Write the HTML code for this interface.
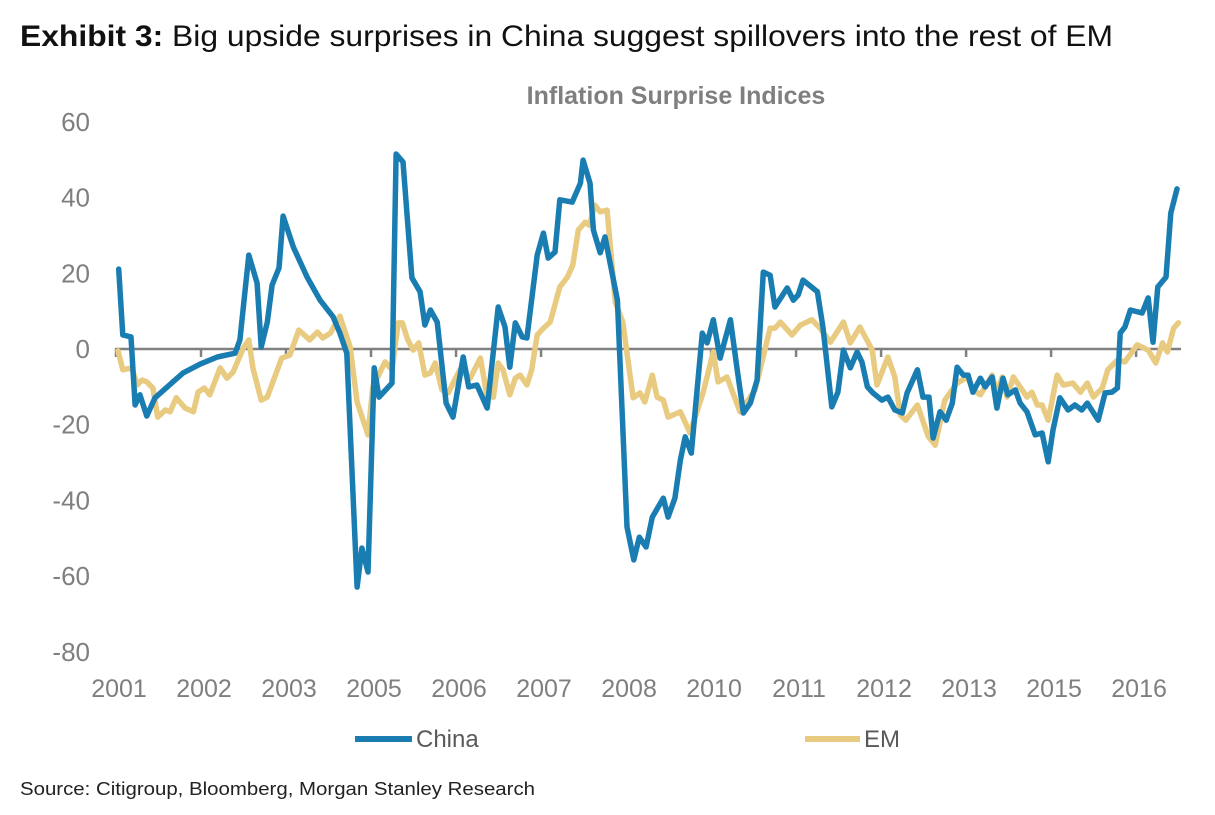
<!DOCTYPE html>
<html><head><meta charset="utf-8"><style>
body{margin:0;background:#fff;width:1215px;height:810px;overflow:hidden;font-family:"Liberation Sans",sans-serif}
</style></head><body>
<svg width="1215" height="810">
<text x="20" y="46" font-size="30" fill="#111" textLength="1093" lengthAdjust="spacingAndGlyphs"><tspan font-weight="bold">Exhibit 3:</tspan>  Big upside surprises in China suggest spillovers into the rest of EM</text>
<text x="676" y="104" text-anchor="middle" font-size="25" font-weight="bold" fill="#7f7f7f">Inflation Surprise Indices</text>
<g id="yaxis"></g>
<g id="xaxis"></g>
<g id="series"></g>
<g>
<line x1="355" y1="739" x2="412" y2="739" stroke="#1a7db2" stroke-width="6"/>
<text x="416" y="747" font-size="24" fill="#595959">China</text>
<line x1="805" y1="739" x2="860" y2="739" stroke="#e8cb80" stroke-width="6"/>
<text x="864" y="747" font-size="24" fill="#595959">EM</text>
</g>
<text x="20" y="795" font-size="18" fill="#222" textLength="515" lengthAdjust="spacingAndGlyphs">Source: Citigroup, Bloomberg, Morgan Stanley Research</text>
</svg>
<script>
const yTicks=[60,40,20,0,-20,-40,-60,-80];
const xTickLabels=["2001","2002","2003","2005","2006","2007","2008","2010","2011","2012","2013","2015","2016"];
const xTickStep=1.241;
const chinaT=[0.01,0.07,0.19,0.25,0.32,0.42,0.54,0.72,0.95,1.20,1.45,1.71,1.78,1.91,2.03,2.09,2.18,2.25,2.35,2.41,2.56,2.76,2.95,3.14,3.24,3.34,3.49,3.56,3.65,3.74,3.81,4.00,4.06,4.16,4.29,4.41,4.48,4.56,4.66,4.79,4.89,5.04,5.12,5.24,5.39,5.55,5.65,5.72,5.80,5.90,5.97,6.12,6.21,6.28,6.38,6.45,6.63,6.75,6.79,6.89,6.94,7.04,7.11,7.29,7.43,7.53,7.61,7.71,7.80,7.96,8.03,8.13,8.21,8.28,8.37,8.53,8.60,8.69,8.79,8.94,9.04,9.13,9.23,9.33,9.42,9.52,9.59,9.77,9.86,9.93,10.00,10.21,10.29,10.42,10.51,10.59,10.69,10.79,10.86,10.94,11.02,11.15,11.24,11.34,11.45,11.52,11.67,11.75,11.84,11.90,12.00,12.09,12.18,12.25,12.34,12.41,12.48,12.59,12.66,12.76,12.83,12.92,12.99,13.10,13.17,13.27,13.39,13.49,13.58,13.65,13.75,13.87,13.97,14.07,14.15,14.31,14.41,14.51,14.59,14.63,14.70,14.78,14.95,15.04,15.11,15.18,15.30,15.37,15.46];
const chinaV=[21.1,3.7,3.2,-14.8,-12.1,-17.7,-12.9,-10.0,-6.3,-4.0,-2.1,-1.1,2.4,24.8,17.4,0.5,7.1,16.9,21.4,35.1,26.9,19.0,12.9,8.5,4.2,-1.1,-62.9,-52.6,-58.9,-5.0,-12.7,-9.0,51.5,49.4,18.8,15.1,6.3,10.3,7.1,-14.3,-18.0,-2.1,-10.0,-9.5,-15.6,11.1,5.8,-4.8,6.9,3.2,2.9,24.8,30.6,24.0,25.6,39.4,38.8,43.8,49.9,43.8,31.4,25.4,29.6,12.9,-47.0,-55.7,-49.7,-52.3,-44.4,-39.4,-44.4,-39.4,-29.3,-23.2,-27.5,4.2,1.6,7.7,-2.4,7.7,-5.5,-16.9,-14.3,-8.2,20.3,19.5,11.1,16.1,12.9,14.3,18.2,15.1,5.8,-15.3,-11.4,-0.3,-5.0,-0.8,-3.4,-10.0,-11.6,-13.5,-12.7,-16.1,-16.9,-11.6,-5.5,-12.7,-12.7,-23.5,-16.6,-18.8,-14.3,-4.8,-6.9,-6.9,-11.4,-7.7,-10.0,-7.4,-15.6,-7.7,-12.1,-10.8,-14.3,-16.6,-22.7,-22.2,-29.8,-21.4,-12.9,-16.1,-14.8,-16.1,-14.3,-18.8,-11.6,-11.4,-10.3,4.2,5.8,10.3,9.5,13.5,1.8,16.4,19.0,35.9,42.3];
const emT=[0.00,0.07,0.20,0.28,0.35,0.42,0.51,0.58,0.69,0.76,0.85,0.98,1.10,1.17,1.26,1.34,1.49,1.59,1.68,1.83,1.91,1.97,2.09,2.18,2.39,2.51,2.64,2.80,2.91,2.99,3.10,3.24,3.39,3.49,3.65,3.72,3.90,4.00,4.09,4.15,4.23,4.31,4.39,4.48,4.56,4.63,4.73,4.82,4.99,5.14,5.29,5.39,5.48,5.55,5.62,5.72,5.80,5.87,5.97,6.04,6.12,6.21,6.31,6.45,6.56,6.64,6.72,6.82,6.88,6.96,7.04,7.14,7.26,7.37,7.52,7.62,7.69,7.80,7.87,7.96,8.03,8.21,8.35,8.54,8.69,8.76,8.89,9.08,9.30,9.52,9.59,9.67,9.84,9.96,10.13,10.25,10.40,10.59,10.69,10.83,11.01,11.08,11.24,11.34,11.42,11.50,11.67,11.83,11.93,12.07,12.25,12.40,12.48,12.59,12.76,12.83,12.91,12.98,13.07,13.17,13.27,13.34,13.42,13.49,13.58,13.71,13.80,13.94,14.05,14.15,14.24,14.37,14.45,14.59,14.70,14.88,15.04,15.15,15.25,15.32,15.41,15.48];
const emV=[-0.5,-5.5,-5.0,-9.5,-8.2,-8.7,-10.3,-18.0,-16.1,-16.6,-12.9,-15.6,-16.6,-11.4,-10.3,-12.1,-5.0,-7.7,-6.1,0.3,2.4,-5.0,-13.5,-12.7,-2.4,-1.6,5.0,2.4,4.5,2.9,4.2,8.7,0.5,-14.0,-22.7,-10.0,-3.4,-5.5,6.9,6.9,2.4,-0.3,1.6,-6.9,-6.3,-3.7,-10.8,-11.6,-5.5,-7.7,-2.4,-12.7,-12.7,-3.7,-5.5,-12.1,-7.7,-6.9,-9.5,-5.5,3.7,5.5,7.1,16.4,19.0,22.2,31.4,33.5,32.7,38.0,36.2,36.7,12.4,7.1,-12.9,-11.6,-14.0,-6.9,-12.7,-13.5,-18.0,-16.6,-22.2,-11.6,-0.8,-8.7,-7.4,-16.6,-10.8,5.5,5.5,7.1,3.7,6.3,7.7,5.5,1.8,7.1,1.6,5.8,-0.3,-9.5,-2.1,-7.4,-17.4,-18.8,-14.8,-23.2,-25.4,-13.5,-9.0,-7.4,-10.8,-12.1,-6.9,-11.6,-7.4,-12.7,-7.4,-10.0,-12.7,-11.4,-14.8,-14.8,-18.8,-6.9,-9.5,-9.0,-11.4,-9.0,-12.7,-10.3,-5.5,-2.9,-3.4,1.1,-0.3,-3.7,1.6,-0.8,5.5,6.9];
const NS="http://www.w3.org/2000/svg";
const xs=t=>118+t*68.5;
const ys=v=>349-v*3.786;
function mk(tag,attrs,parent){const e=document.createElementNS(NS,tag);for(const k in attrs)e.setAttribute(k,attrs[k]);parent.appendChild(e);return e;}
const ya=document.getElementById('yaxis');
yTicks.forEach(v=>{const t=mk('text',{x:90,y:ys(v)+9,'text-anchor':'end','font-size':26,fill:'#7f7f7f'},ya);t.textContent=v;

});
const xa=document.getElementById('xaxis');
const ax=mk('line',{x1:115,y1:ys(0),x2:1181,y2:ys(0),stroke:'#808080','stroke-width':2.5},xa);


xTickLabels.forEach((l,i)=>{const x=xs(i*xTickStep)-2;
const tk=mk('line',{x1:x,y1:ys(0),x2:x,y2:ys(0)+8,stroke:'#808080','stroke-width':2.5},xa);


const t=mk('text',{x:x+3,y:697,'text-anchor':'middle','font-size':25,fill:'#7f7f7f'},xa);t.textContent=l;

});
const sg=document.getElementById('series');
function line(T,V,color,name){const d=T.map((t,i)=>(i?'L':'M')+xs(t).toFixed(1)+' '+ys(V[i]).toFixed(1)).join(' ');
const p=mk('path',{d:d,fill:'none',stroke:color,'stroke-width':5.5,'stroke-linejoin':'round','stroke-linecap':'round'},sg);

}
line(emT,emV,'#e8cb80','em-line');
line(chinaT,chinaV,'#1a7db2','china-line');
</script>
</body></html>
